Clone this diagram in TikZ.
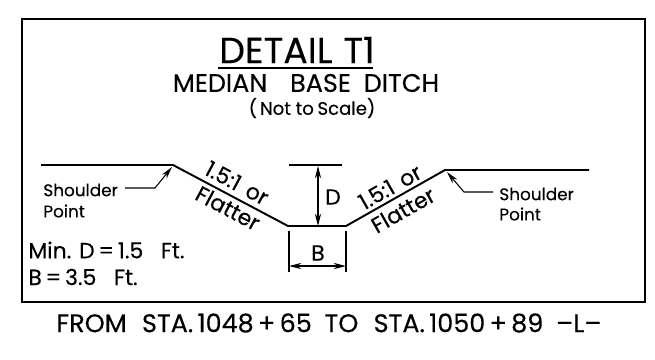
\documentclass[tikz,border=0pt]{standalone}
\usepackage{fontspec}
\setmainfont[FakeBold=0.25]{Poppins}
\usetikzlibrary{arrows.meta}
\tikzset{
  frame/.style={line width=1.2pt},
  ground/.style={line width=1.1pt},
  thin line/.style={line width=0.6pt},
  leader/.style={line width=0.6pt,-{Stealth[length=7pt,width=3.5pt]}},
  dim/.style={line width=0.6pt,{Stealth[length=7pt,width=3.5pt]}-{Stealth[length=7pt,width=3.5pt]}},
  label/.style={inner sep=0pt,font=\fontsize{9.6}{9.6}\selectfont},
  slope/.style={inner sep=0pt,font=\fontsize{12.5}{12.5}\selectfont},
  notes/.style={inner sep=0pt,font=\fontsize{12.5}{12.5}\selectfont},
  title/.style={inner sep=0pt,font=\fontsize{20.7}{20.7}\selectfont},
  heading/.style={inner sep=0pt,font=\fontsize{14.5}{14.5}\selectfont}
}
\begin{document}
\begin{tikzpicture}[x=0.02cm,y=-0.02cm]
      \useasboundingbox (0,0) rectangle (655,359);
      \draw[frame] (22,19) rectangle (645,302);
      \draw
        (297,50) node[title] (detail){DETAIL\hspace{0.3em}T1}
        (306,83) node[heading] (median){MEDIAN\hspace{0.9em}BASE\hspace{0.5em}DITCH}
        (312,108) node[label,font=\fontsize{10.3}{10.3}\selectfont] (scale){(\,Not to\hspace{0.2em}Scale)}
        (43,190) node[label,anchor=west] (shoulderl){Shoulder}
        (43,211) node[label,anchor=west] (pointl){Point}
        (499,194) node[label,anchor=west] (shoulderr){Shoulder}
        (499,214) node[label,anchor=west] (pointr){Point}
        (28,250) node[notes,anchor=west] (mind){Min. D\,=\,1.5\hspace{0.8em}Ft.}
        (28,277) node[notes,anchor=west] (minb){B\,=\,3.5\hspace{0.8em}Ft.}
        (333,197) node[notes] (d){D}
        (318,253) node[notes] (b){B}
        (237,183) node[slope,rotate=-28] (slopel){1.5:1\hspace{0.4em}or}
        (228,208) node[slope,rotate=-28] (flatl){Flatter}
        (390,187) node[slope,rotate=29.5] (sloper){1.5:1\hspace{0.4em}or}
        (403,210) node[slope,rotate=29.5] (flatr){Flatter}
        (329,323) node[heading] (from){FROM\hspace{0.6em}STA.\,1048\,+\,65\hspace{0.5em}TO\hspace{0.6em}STA.\,1050\,+\,89\hspace{0.5em}–L–};
      \coordinate (gl) at (41,165);
      \coordinate (sl) at (173,165);
      \coordinate (bl) at (288,226);
      \coordinate (br) at (346,226);
      \coordinate (sr) at (445,170);
      \coordinate (gr) at (589,170);
      \draw[ground] (gl) -- (sl) -- (bl) -- (br) -- (sr) -- (gr);
      \draw[ground] (218,68) -- (373,68);
      \begin{scope}[thin line]
        \draw (289,165) -- (342,165);
        \draw (289,231) -- (289,272);
        \draw (346,231) -- (346,272);
      \end{scope}
      \draw[dim] (318,166) -- (318,226);
      \draw[dim] (289,266) -- (346,266);
      \draw[leader] (125,188) -- (155,188) -- (172,167);
      \draw[leader] (493,192) -- (464,192) -- (447,172);
    \end{tikzpicture}
\end{document}
